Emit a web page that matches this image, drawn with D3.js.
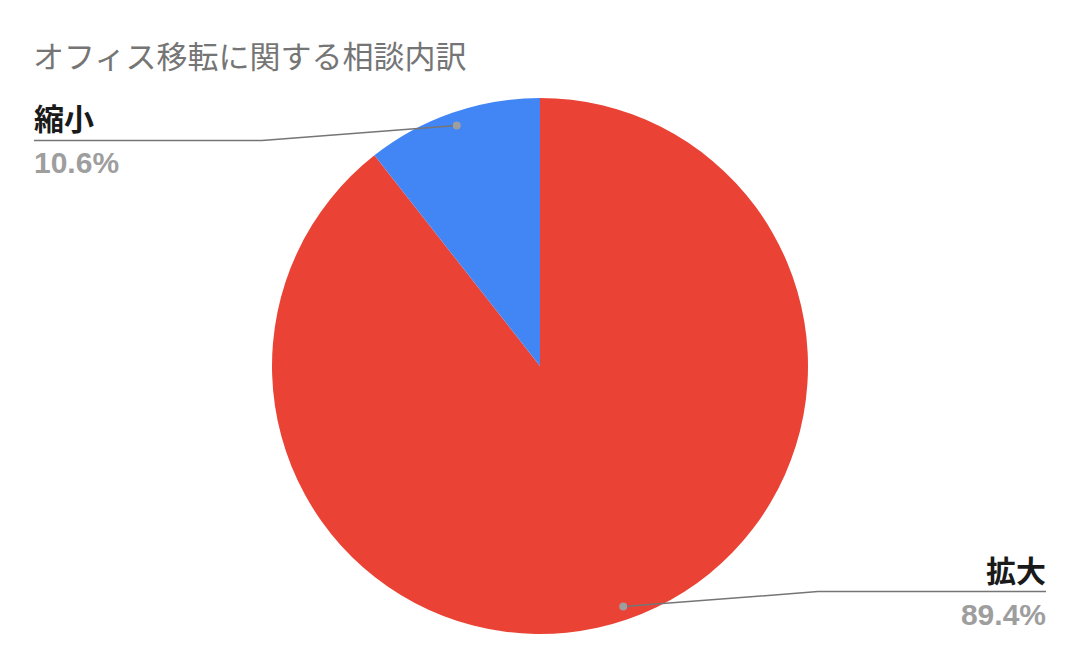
<!DOCTYPE html>
<html>
<head>
<meta charset="utf-8">
<script src="https://cdn.jsdelivr.net/npm/d3@7"></script>
<style>
  body { margin: 0; background: #fff; }
  text { font-family: "Noto Sans CJK JP", Roboto, sans-serif; }
</style>
</head>
<body>
<div id="chart"></div>
<script>
const title = "オフィス移転に関する相談内訳";
const categories = ["拡大", "縮小"];
const shares = [89.4, 10.6];
const colors = ["#EA4335", "#4285F4"];

const width = 1080, height = 667;
const cx = 540, cy = 366, radius = 268;

const svg = d3.select("#chart")
  .append("svg")
  .attr("width", width)
  .attr("height", height);

svg.append("text")
  .attr("x", 33)
  .attr("y", 68)
  .attr("font-size", 31)
  .attr("fill", "#757575")
  .text(title);

const data = categories.map((c, i) => ({ name: c, value: shares[i], color: colors[i] }));

const pie = d3.pie().sort(null).value(d => d.value);
const arcs = pie(data);

const arc = d3.arc().innerRadius(0).outerRadius(radius);
const dotArc = d3.arc().innerRadius(radius * 0.95).outerRadius(radius * 0.95);

const g = svg.append("g").attr("transform", `translate(${cx},${cy})`);

g.selectAll("path.slice")
  .data(arcs)
  .join("path")
  .attr("class", "slice")
  .attr("fill", d => d.data.color)
  .attr("d", arc);

// labels: left-side slices go to the left margin, right-side ones to the right
arcs.forEach(a => {
  const [dx, dy] = dotArc.centroid(a);
  const px = cx + dx, py = cy + dy;
  const mid = (a.startAngle + a.endAngle) / 2;
  const left = Math.sin(mid) < 0;
  const upper = Math.cos(mid) > 0;
  const lineY = upper ? py + 15 : py - 15;
  const textX = left ? 34 : 1046;
  const elbowX = left ? 262 : 818;

  svg.append("polyline")
    .attr("points", [[textX, lineY], [elbowX, lineY], [px, py]].map(p => p.join(",")).join(" "))
    .attr("fill", "none")
    .attr("stroke", "#757575")
    .attr("stroke-width", 1.5);

  svg.append("circle")
    .attr("cx", px)
    .attr("cy", py)
    .attr("r", 4)
    .attr("fill", "#9e9e9e");

  svg.append("text")
    .attr("x", textX)
    .attr("y", lineY - 10)
    .attr("text-anchor", left ? "start" : "end")
    .attr("font-size", 30)
    .attr("font-weight", "bold")
    .attr("fill", "#1a1a1a")
    .text(a.data.name);

  svg.append("text")
    .attr("x", textX)
    .attr("y", lineY + 33)
    .attr("text-anchor", left ? "start" : "end")
    .attr("font-size", 30)
    .attr("font-weight", "bold")
    .attr("fill", "#9e9e9e")
    .style("font-family", "'Liberation Sans', Arial, sans-serif")
    .text(d3.format(".1f")(a.data.value) + "%");
});
</script>
</body>
</html>
